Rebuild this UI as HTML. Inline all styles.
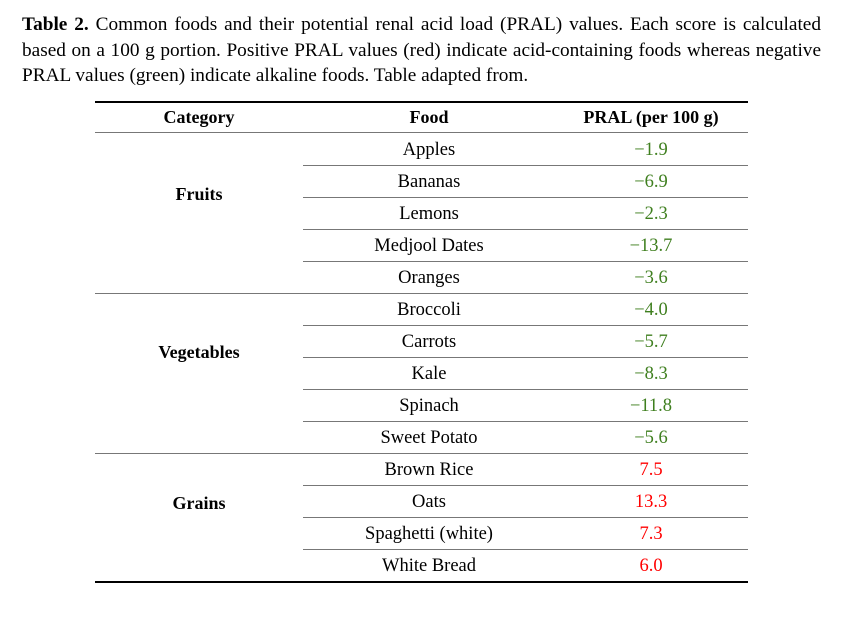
<!DOCTYPE html>
<html><head><meta charset="utf-8"><style>
body{margin:0;background:#fff;width:858px;height:632px;position:relative;overflow:hidden;font-family:"Liberation Serif",serif;color:#000}
.cap{position:absolute;left:22px;width:799px;font-size:19.3px;white-space:nowrap;text-align:justify;text-align-last:justify;line-height:20px}
.r{position:absolute;height:1.3px;background:#777}
.t{position:absolute;height:1.6px;background:#000;left:95px;width:653px}
.c{position:absolute;font-size:18.5px;line-height:32px;height:32px;text-align:center;white-space:nowrap}
.b{font-weight:bold;font-size:18px}
.g{color:#3f7f1f}.red{color:#ff0000}
</style></head><body>
<div class="cap" style="top:15px"><b>Table 2.</b> Common foods and their potential renal acid load (PRAL) values. Each score is calculated</div>
<div class="cap" style="top:41px">based on a 100 g portion. Positive PRAL values (red) indicate acid-containing foods whereas negative</div>
<div class="cap" style="top:66px;width:auto;text-align-last:auto">PRAL values (green) indicate alkaline foods. Table adapted from.</div>

<div class="t" style="top:101px"></div>
<div class="r" style="top:132px;left:95px;width:653px"></div>
<div class="t" style="top:581px"></div>

<div class="c b" style="left:99px;width:200px;top:101px">Category</div>
<div class="c b" style="left:329px;width:200px;top:101px">Food</div>
<div class="c b" style="left:551px;width:200px;top:101px">PRAL (per 100 g)</div>

<div class="c b" style="left:99px;width:200px;top:178px">Fruits</div>
<div class="c b" style="left:99px;width:200px;top:336px">Vegetables</div>
<div class="c b" style="left:99px;width:200px;top:487px">Grains</div>

<div id="rows"></div>
<script>
var d=[["Apples","−1.9","g"],["Bananas","−6.9","g"],["Lemons","−2.3","g"],["Medjool Dates","−13.7","g"],["Oranges","−3.6","g"],["Broccoli","−4.0","g"],["Carrots","−5.7","g"],["Kale","−8.3","g"],["Spinach","−11.8","g"],["Sweet Potato","−5.6","g"],["Brown Rice","7.5","red"],["Oats","13.3","red"],["Spaghetti (white)","7.3","red"],["White Bread","6.0","red"]];
var h="";
for(var i=0;i<d.length;i++){var y=133+32*i;
h+='<div class="c" style="left:329px;width:200px;top:'+(y+1)+'px">'+d[i][0]+'</div>';
h+='<div class="c '+d[i][2]+'" style="left:551px;width:200px;top:'+(y+1)+'px">'+d[i][1]+'</div>';
if(i<d.length-1){var full=(i==4||i==9);h+='<div class="r" style="top:'+(y+32)+'px;left:'+(full?95:303)+'px;width:'+(full?653:445)+'px"></div>';}}
document.getElementById("rows").innerHTML=h;
</script>
</body></html>
